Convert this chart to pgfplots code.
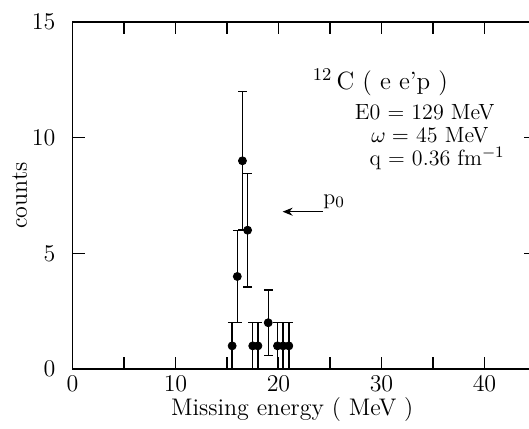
\documentclass[border=0pt]{standalone}
\usepackage{pgfplots}
\pgfplotsset{compat=1.18}
\usetikzlibrary{arrows.meta}
\begin{document}
\begin{tikzpicture}
\begin{axis}[name=ax, scale only axis, width=231.75pt, height=173.5pt,
  xmin=0, xmax=45, ymin=0, ymax=15,
  xtick={0,10,20,30,40}, minor xtick={5,15,25,35,45}, ytick={0,5,10,15},
  tick align=inside, major tick length=6pt, minor tick length=6pt,
  tick style={black, line width=0.7pt},
  axis line style={line width=0.8pt},
  ticklabel style={font=\fontsize{11.5}{13}\selectfont},
  xticklabel style={font=\sffamily\fontsize{11.5}{13}\selectfont},
  yticklabel style={xshift=-5pt},
  xlabel={Missing energy ( MeV )}, ylabel={counts},
  label style={font=\large},
  xlabel style={at={(axis description cs:0.474,-0.118)}, anchor=center},
  ylabel style={at={(axis description cs:-0.114,0.5)}, anchor=center},
  clip=false]
\addplot[only marks, mark=*, mark size=2pt, black,
  error bars/.cd, y dir=both, y explicit,
  error mark options={rotate=90, mark size=2.2pt, line width=0.7pt},
  error bar style={line width=0.7pt}]
  table[x=x, y=y, y error=e] {
x y e
15.5 1 1
16 4 2
16.5 9 3
17 6 2.45
17.5 1 1
18 1 1
19 2 1.41
19.9 1 1
20.45 1 1
21 1 1
};
\node[font=\fontsize{12.5}{14}\selectfont] at (axis cs:29.9,12.4) {$^{12}$\,C ( e e'p )};
\node[font=\fontsize{11}{13}\selectfont] at (axis cs:34.2,11.1) {E0 = 129 MeV};
\node[font=\fontsize{11}{13}\selectfont] at (axis cs:34.7,10.1) {$\omega =$ 45 MeV};
\node[font=\fontsize{11}{13}\selectfont] at (axis cs:35.4,9.1) {q = 0.36 fm$^{-1}$};
\node[font=\fontsize{11}{13}\selectfont] at (axis cs:25.4,7.25) {p$_0$};
\draw[-{Stealth[length=5pt,width=4pt]}, line width=0.6pt] (axis cs:24.3,6.8) -- (axis cs:20.4,6.8);
\end{axis}
\pgfresetboundingbox
\path (ax.south west) ++(-36.25pt,-29.5pt) rectangle ++(264.5pt,214pt);
\end{tikzpicture}
\end{document}
